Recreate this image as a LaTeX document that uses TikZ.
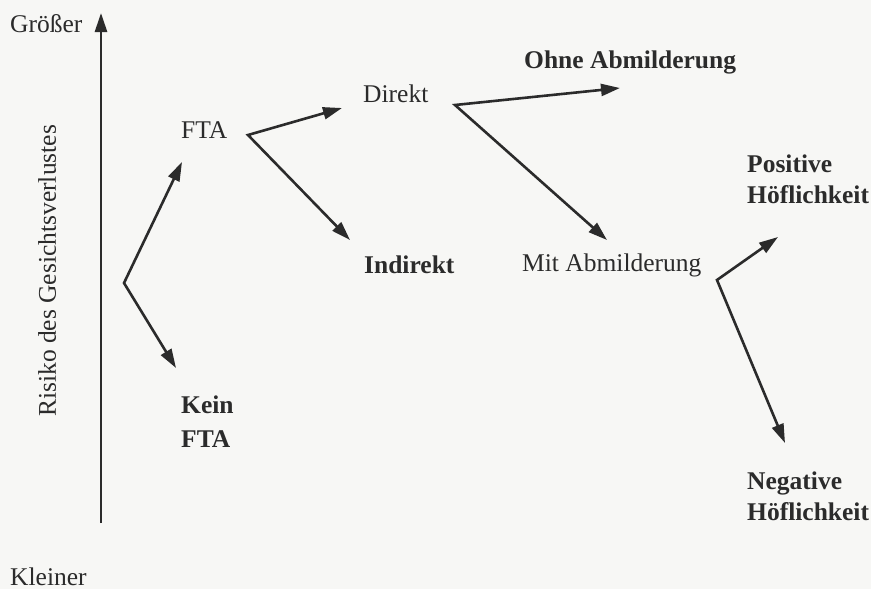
\documentclass[tikz,border=0pt]{standalone}
\usepackage{fontspec}
\setmainfont{Liberation Serif}
\usetikzlibrary{arrows.meta}
\definecolor{ink}{HTML}{2B2B2B}
\definecolor{paper}{HTML}{F7F7F5}
\newcommand\twolines[2]{\begin{tabular}[t]{@{}l@{}}#1\\#2\end{tabular}}
\begin{document}
\begin{tikzpicture}[x=1pt,y=-1pt,
  lbl/.style={anchor=base west, inner sep=0pt, text=ink, font=\fontsize{25.5}{31}\selectfont},
  blbl/.style={lbl, font=\fontsize{25.5}{31}\selectfont\bfseries},
  tip/.tip={Triangle[length=19pt,width=12pt]},
  arr/.style={draw=ink, line width=2.6pt, line join=miter, -tip},
  fork/.style={draw=ink, line width=2.6pt, line join=miter, tip-tip}]
\fill[paper] (0,0) rectangle (871,589);
\useasboundingbox (0,0) rectangle (871,589);
% labels
\node[lbl] (groesser) at (10,32) {Größer};
\node[lbl] (kleiner) at (10,585) {Kleiner};
\node[lbl, rotate=90] (risiko) at (56,417) {Risiko des Gesichtsverlustes};
\node[lbl] (fta) at (181,138) {FTA};
\node[blbl, font=\fontsize{25.5}{34}\selectfont\bfseries] (kein) at (181,413) {\twolines{Kein}{FTA}};
\node[lbl] (direkt) at (363,102) {Direkt};
\node[blbl] (indirekt) at (364,273) {Indirekt};
\node[blbl] (ohne) at (524,68) {Ohne Abmilderung};
\node[lbl] (mit) at (522,271) {Mit Abmilderung};
\node[blbl] (pos) at (747,172) {\twolines{Positive}{Höflichkeit}};
\node[blbl] (neg) at (747,489) {\twolines{Negative}{Höflichkeit}};
% connector points
\coordinate (axbot) at (101,523);
\coordinate (axtop) at (101,13);
\coordinate (v0) at (124,283);
\coordinate (tipfta) at (182,162);
\coordinate (tipkein) at (176,368);
\coordinate (v1) at (248,135);
\coordinate (tipdirekt) at (342,108);
\coordinate (tipindirekt) at (350,240);
\coordinate (v2) at (455,105);
\coordinate (tipohne) at (620,88);
\coordinate (tipmit) at (607,240);
\coordinate (v3) at (717,280);
\coordinate (tippos) at (778,237);
\coordinate (tipneg) at (785,443);
% connectors
\draw[arr] (axbot) -- (axtop);
\draw[fork] (tipfta) -- (v0) -- (tipkein);
\draw[fork] (tipdirekt) -- (v1) -- (tipindirekt);
\draw[fork] (tipohne) -- (v2) -- (tipmit);
\draw[fork] (tippos) -- (v3) -- (tipneg);
\end{tikzpicture}
\end{document}
